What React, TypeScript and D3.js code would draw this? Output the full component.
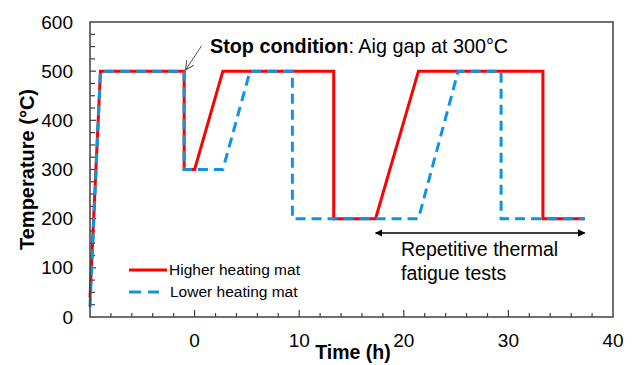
import * as d3 from "d3";

// Higher heating mat (red, solid)
const higherTime = [-10, -9, -1, -1, 0, 2.7, 13.3, 13.3, 17.3, 21.4, 33.3, 33.3, 37.3];
const higherTemp = [40, 500, 500, 300, 300, 500, 500, 200, 200, 500, 500, 200, 200];

// Lower heating mat (blue, dashed)
const lowerTime = [-10, -9, -1, -1, 2.7, 5.3, 9.35, 9.35, 21.4, 25.2, 29.3, 29.3, 37.3];
const lowerTemp = [20, 500, 500, 300, 300, 500, 500, 200, 200, 500, 500, 200, 200];

const xTickLabels = [0, 10, 20, 30, 40];
const yTickLabels = [0, 100, 200, 300, 400, 500, 600];

const width = 634;
const height = 365;
const margin = { top: 22, right: 21, bottom: 48, left: 90 };
const font = "'Liberation Sans', Arial, sans-serif";
const red = "#ff0000";
const blue = "#1192e8";
const axisColor = "#404040";

export default function App() {
  const x = d3.scaleLinear([-10, 40], [margin.left, width - margin.right]);
  const y = d3.scaleLinear([0, 600], [height - margin.bottom, margin.top]);
  const line = d3.line<[number, number]>()
    .x(d => x(d[0]))
    .y(d => y(d[1]));

  const higher = higherTime.map((t, i) => [t, higherTemp[i]] as [number, number]);
  const lower = lowerTime.map((t, i) => [t, lowerTemp[i]] as [number, number]);

  const xMinor = d3.range(-10, 40.01, 2).filter(v => v > -10 && v < 40);
  const yMinor = d3.range(0, 600.01, 25).filter(v => v > 0 && v < 600);

  const x0 = margin.left;
  const y0 = height - margin.bottom;

  return (
    <svg width={width} height={height} style={{ position: "fixed", left: 0, top: 0, background: "#fff" }}
      fontFamily={font}>
      <defs>
        <marker id="open" viewBox="0 0 10 10" refX="10" refY="5" markerWidth="9" markerHeight="9" orient="auto">
          <path d="M0,0 L10,5 L0,10" fill="none" stroke="#555" strokeWidth="1.2" />
        </marker>
        <marker id="solid" viewBox="0 0 10 10" refX="9" refY="5" markerWidth="5" markerHeight="5" orient="auto-start-reverse">
          <path d="M0,0 L10,5 L0,10 z" fill="#000" />
        </marker>
      </defs>

      {/* minor & major ticks, inward */}
      {xMinor.map(v => {
        const major = v % 10 === 0;
        return <line key={"xt" + v} x1={x(v)} x2={x(v)} y1={y0} y2={y0 - (major ? 7 : 4)} stroke={axisColor} strokeWidth={1.2} />;
      })}
      {yMinor.map(v => {
        const major = v % 100 === 0;
        return <line key={"yt" + v} x1={x0} x2={x0 + (major ? 6 : 5)} y1={y(v)} y2={y(v)} stroke={axisColor} strokeWidth={1.2} />;
      })}

      {/* tick labels */}
      {xTickLabels.map(v => (
        <text key={"xl" + v} x={x(v)} y={y0 + 30} textAnchor="middle" fontSize={19} fill="#000">{v}</text>
      ))}
      {yTickLabels.map(v => (
        <text key={"yl" + v} x={x0 - 17} y={y(v)} dy="0.35em" textAnchor="end" fontSize={19} fill="#000">{v}</text>
      ))}

      {/* axis titles */}
      <text x={353} y={359} textAnchor="middle" fontSize={19.5} fontWeight="bold">Time (h)</text>
      <text transform={`translate(34, ${(margin.top + y0) / 2}) rotate(-90)`} textAnchor="middle" fontSize={20} fontWeight="bold">
        Temperature (°C)
      </text>

      {/* series */}
      <path d={line(higher) ?? ""} fill="none" stroke={red} strokeWidth={3} strokeLinejoin="miter" />
      <path d={line(lower) ?? ""} fill="none" stroke={blue} strokeWidth={3} strokeDasharray="10,6" />

      {/* frame */}
      <rect x={x0} y={margin.top} width={width - margin.right - x0} height={y0 - margin.top}
        fill="none" stroke={axisColor} strokeWidth={1.5} />

      {/* stop condition annotation */}
      <line x1={201.5} y1={46} x2={185.5} y2={70} stroke="#555" strokeWidth={1} markerEnd="url(#open)" />
      <text x={210} y={53} fontSize={19.8} fill="#000">
        <tspan fontWeight="bold">Stop condition</tspan>
        <tspan>: Aig gap at 300°C</tspan>
      </text>

      {/* repetitive tests arrow */}
      <line x1={x(17.3)} y1={233} x2={x(37.3)} y2={233} stroke="#000" strokeWidth={1.5}
        markerStart="url(#solid)" markerEnd="url(#solid)" />
      <text x={401} y={256} fontSize={19.5} fill="#000">Repetitive thermal</text>
      <text x={401} y={280} fontSize={19.5} fill="#000">fatigue tests</text>

      {/* legend */}
      <line x1={129} x2={167} y1={270} y2={270} stroke={red} strokeWidth={3} />
      <text x={169} y={270} dy="0.35em" fontSize={15.5} fill="#000">Higher heating mat</text>
      <line x1={129} x2={159} y1={292} y2={292} stroke={blue} strokeWidth={3} strokeDasharray="12,7" />
      <text x={170} y={292} dy="0.35em" fontSize={15.5} fill="#000">Lower heating mat</text>
    </svg>
  );
}
